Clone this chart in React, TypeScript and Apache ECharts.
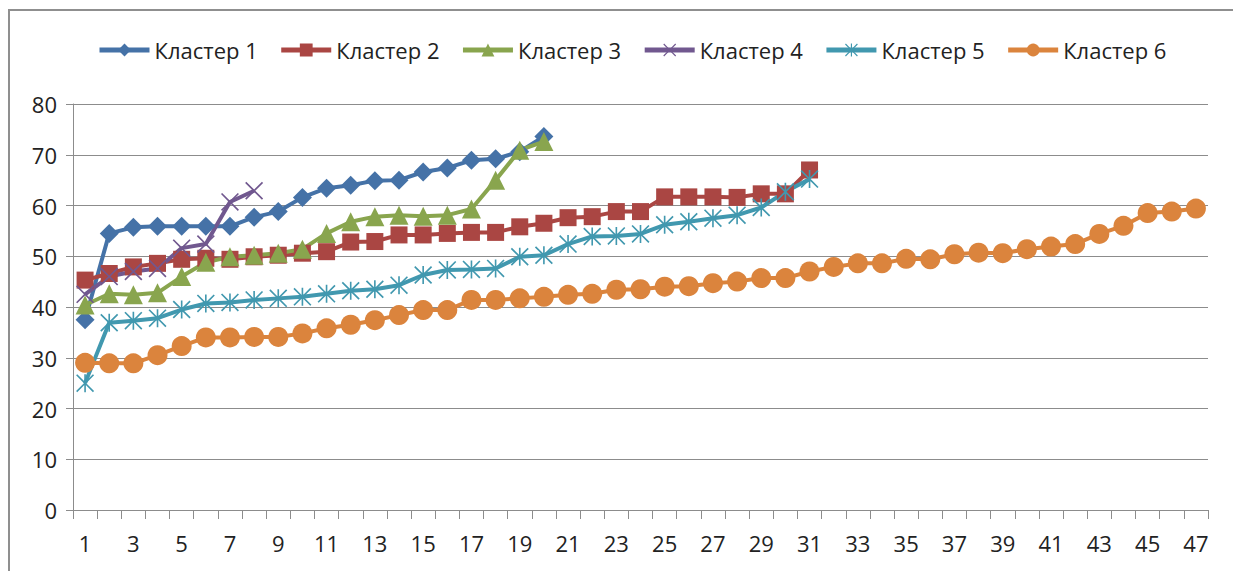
import React, { useEffect, useRef } from "react";
import * as echarts from "echarts";

const categories: string[] = Array.from({ length: 47 }, (_, i) => String(i + 1));

const seriesNames = ["Кластер 1", "Кластер 2", "Кластер 3", "Кластер 4", "Кластер 5", "Кластер 6"];

const cluster1 = [37.5, 54.5, 55.7, 55.9, 55.9, 55.9, 55.9, 57.7, 58.8, 61.6, 63.4, 64, 64.9, 65, 66.6, 67.4, 68.9, 69.2, 70.6, 73.6];
const cluster2 = [45.3, 46.6, 47.9, 48.6, 49.4, 49.6, 49.4, 49.9, 50.2, 50.6, 50.9, 52.8, 52.9, 54.2, 54.2, 54.5, 54.7, 54.7, 55.8, 56.5, 57.6, 57.8, 58.8, 58.8, 61.7, 61.7, 61.7, 61.6, 62.3, 62.3, 67];
const cluster3 = [40.4, 42.6, 42.4, 42.8, 46, 48.8, 49.9, 50.2, 50.6, 51.4, 54.5, 56.8, 57.8, 58.1, 57.9, 58.1, 59.3, 65, 70.9, 72.6];
const cluster4 = [42.5, 46, 47, 47.6, 51.6, 52.4, 60.7, 62.9];
const cluster5 = [25, 36.9, 37.3, 37.8, 39.5, 40.7, 40.9, 41.4, 41.7, 42, 42.6, 43.2, 43.5, 44.3, 46.3, 47.3, 47.4, 47.6, 49.9, 50.2, 52.4, 53.9, 54, 54.4, 56.2, 56.8, 57.5, 58.1, 59.6, 62.7, 65.2];
const cluster6 = [29, 28.9, 28.9, 30.5, 32.3, 34, 34, 34.1, 34.1, 34.8, 35.8, 36.5, 37.4, 38.4, 39.4, 39.4, 41.4, 41.4, 41.7, 42, 42.4, 42.6, 43.4, 43.5, 44, 44.1, 44.7, 45, 45.7, 45.7, 47, 47.9, 48.6, 48.6, 49.5, 49.4, 50.4, 50.7, 50.6, 51.4, 51.9, 52.4, 54.4, 56, 58.5, 58.8, 59.4];

const yTicks = { min: 0, max: 80, interval: 10 };

const colors = ["#4572A7", "#AA4643", "#89A54E", "#71588F", "#4198AF", "#DB843D"];

const a = 1.3;
const xPoly = `M0,${a} L${a},0 L10,${10 - a} L${20 - a},0 L20,${a} L${10 + a},10 L20,${20 - a} L${20 - a},20 L10,${10 + a} L${a},20 L0,${20 - a} L${10 - a},10 Z`;
const xSymbol = "path://" + xPoly;
const starSymbol = "path://" + xPoly + " M9.1,0 L10.9,0 L10.9,20 L9.1,20 Z";

export default function App() {
  const ref = useRef<HTMLDivElement>(null);
  useEffect(() => {
    if (!ref.current) return;
    const chart = echarts.init(ref.current, null, { renderer: "svg" });
    const font = "'Open Sans', 'Noto Sans', sans-serif";
    const data = [cluster1, cluster2, cluster3, cluster4, cluster5, cluster6];
    const symbols = ["diamond", "rect", "triangle", xSymbol, starSymbol, "circle"];
    const sizes = [19, 17, 19, 18, 18, 20];
    chart.setOption({
      animation: false,
      color: colors,
      textStyle: { fontFamily: font },
      graphic: [
        {
          type: "rect",
          shape: { x: 9, y: 10, width: 1400, height: 700 },
          style: { fill: "none", stroke: "#8f8f8f", lineWidth: 2 },
          silent: true,
        },
      ],
      legend: {
        top: 34,
        left: 92,
        itemWidth: 50,
        itemHeight: 16,
        itemGap: 21,
        lineStyle: { width: 5 },
        textStyle: { fontSize: 22, color: "#222", fontFamily: font },
        data: seriesNames,
      },
      grid: { left: 73, right: 25, top: 104, bottom: 61, containLabel: false },
      xAxis: {
        type: "category",
        data: categories,
        boundaryGap: true,
        axisLine: { show: true, lineStyle: { color: "#8c8c8c", width: 1 } },
        axisTick: { show: true, interval: 0, length: 9, lineStyle: { color: "#8c8c8c" } },
        axisLabel: { interval: 1, fontSize: 22, color: "#222", margin: 22, fontFamily: font },
        splitLine: { show: false },
      },
      yAxis: {
        type: "value",
        min: yTicks.min,
        max: yTicks.max,
        interval: yTicks.interval,
        axisLine: { show: true, lineStyle: { color: "#8c8c8c", width: 1 } },
        axisTick: { show: true, length: 7, lineStyle: { color: "#8c8c8c" } },
        axisLabel: { fontSize: 22, color: "#222", margin: 16, fontFamily: font },
        splitLine: { show: true, lineStyle: { color: "#8c8c8c", width: 1 } },
      },
      series: data.map((d, i) => ({
        name: seriesNames[i],
        type: "line",
        data: d,
        symbol: symbols[i],
        symbolSize: sizes[i],
        showSymbol: true,
        showAllSymbol: true,
        lineStyle: { width: 4, color: colors[i] },
        itemStyle: { color: colors[i] },
        emphasis: { disabled: true },
      })),
    });
    return () => chart.dispose();
  }, []);
  return (
    <div
      ref={ref}
      style={{ position: "fixed", left: 0, top: 0, width: 1233, height: 571, background: "#fff" }}
    />
  );
}
